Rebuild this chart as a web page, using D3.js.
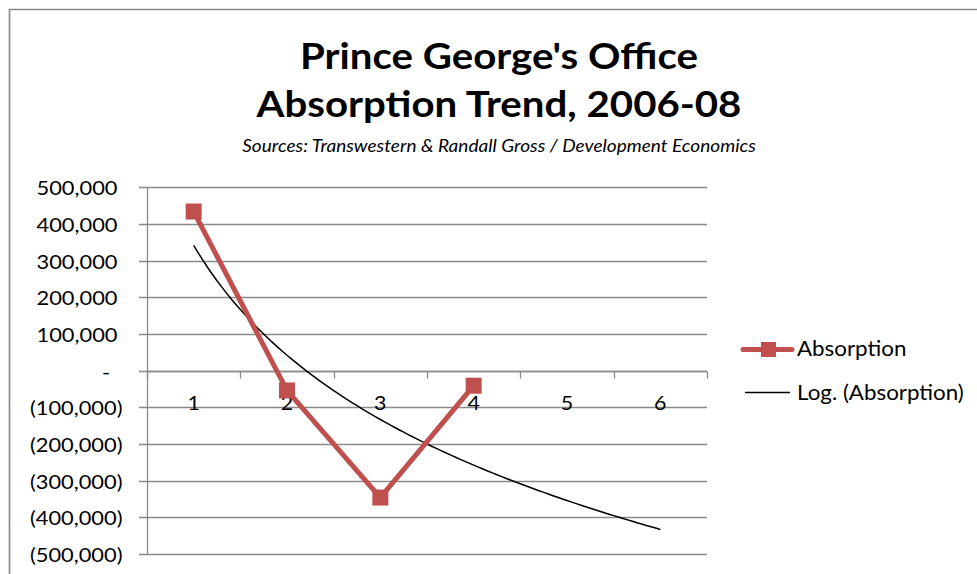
<!DOCTYPE html>
<html>
<head>
<meta charset="utf-8">
<script src="https://cdn.jsdelivr.net/npm/d3@7/dist/d3.min.js"></script>
<style>
  html, body { margin: 0; padding: 0; background: #fff; }
  svg { display: block; font-family: Lato, "Open Sans", sans-serif; }
</style>
</head>
<body>
<svg id="chart" width="977" height="574"></svg>
<script>
// Office absorption (sq ft) by period
const periods = [1, 2, 3, 4, 5, 6];
const absorption = [434000, -54000, -346000, -41000];
const yTicks = [500000, 400000, 300000, 200000, 100000, 0, -100000, -200000, -300000, -400000, -500000];
const titleLines = ["Prince George's Office", "Absorption Trend, 2006-08"];
const subtitle = "Sources: Transwestern & Randall Gross / Development Economics";
const seriesNames = ["Absorption", "Log. (Absorption)"];

const svg = d3.select("#chart");
const red = "#C0504D";
const gridColor = "#8a8a8a";

// widen text runs slightly so the face sets as wide as the original Calibri
function widen(sel, k) {
  sel.each(function () {
    const w = this.getComputedTextLength();
    this.setAttribute("textLength", (w * k).toFixed(1));
    this.setAttribute("lengthAdjust", "spacingAndGlyphs");
  });
}

// chart frame
svg.append("path")
  .attr("d", "M9.5,575 V9.5 H980")
  .attr("fill", "none").attr("stroke", "#888").attr("stroke-width", 1.6);

// titles
svg.selectAll("text.title").data(titleLines).join("text")
  .attr("class", "title")
  .attr("x", 499).attr("y", (d, i) => 69 + i * 48)
  .attr("text-anchor", "middle")
  .attr("font-size", 37).attr("font-weight", 700)
  .attr("fill", "#000")
  .text(d => d)
  .call(widen, 1.087);

svg.append("text")
  .attr("x", 499).attr("y", 152)
  .attr("text-anchor", "middle")
  .attr("font-size", 18).attr("font-style", "italic")
  .attr("fill", "#000")
  .text(subtitle)
  .call(widen, 1.058);

// plot area
const left = 147, right = 707;
const x = d3.scaleBand().domain(periods).range([left, right]);
const xLin = d3.scaleLinear().domain([0.5, 6.5]).range([left, right]);
const y = d3.scaleLinear().domain([-500000, 500000]).range([554, 187.3]);

// horizontal gridlines
svg.append("g").selectAll("line").data(yTicks).join("line")
  .attr("x1", left - 8).attr("x2", right)
  .attr("y1", d => Math.round(y(d)) + 0.5).attr("y2", d => Math.round(y(d)) + 0.5)
  .attr("stroke", gridColor).attr("stroke-width", 1.3);

// y axis line
svg.append("line")
  .attr("x1", left + 0.5).attr("x2", left + 0.5)
  .attr("y1", y(500000)).attr("y2", y(-500000))
  .attr("stroke", gridColor).attr("stroke-width", 1.3);

// y tick labels in accounting style
const fmt = d3.format(",");
svg.append("g").selectAll("text").data(yTicks).join("text")
  .attr("x", d => d > 0 ? 117.5 : d < 0 ? 122.5 : 106)
  .attr("y", d => y(d) + 8)
  .attr("text-anchor", d => d === 0 ? "middle" : "end")
  .attr("font-size", 19.5).attr("fill", "#000")
  .text(d => d > 0 ? fmt(d) : d < 0 ? "(" + fmt(-d) + ")" : "-")
  .call(widen, 1.12);

// x axis at zero with ticks between categories
const zeroY = Math.round(y(0)) + 0.5;
svg.append("line")
  .attr("x1", left).attr("x2", right)
  .attr("y1", zeroY).attr("y2", zeroY)
  .attr("stroke", gridColor).attr("stroke-width", 1.3);
const bounds = periods.map(p => x(p)).concat([right]);
svg.append("g").selectAll("line").data(bounds).join("line")
  .attr("x1", d => Math.round(d) + 0.5).attr("x2", d => Math.round(d) + 0.5)
  .attr("y1", zeroY).attr("y2", zeroY + 7)
  .attr("stroke", gridColor).attr("stroke-width", 1.3);
svg.append("g").selectAll("text").data(periods).join("text")
  .attr("x", d => x(d) + x.bandwidth() / 2)
  .attr("y", zeroY + 38)
  .attr("text-anchor", "middle")
  .attr("font-size", 19.5).attr("fill", "#000")
  .text(d => d)
  .call(widen, 1.1);

// logarithmic trendline: least-squares fit of y = a ln(x) + b over the data, extended to period 6
const lx = absorption.map((v, i) => Math.log(i + 1));
const mx = d3.mean(lx), my = d3.mean(absorption);
const a = d3.sum(lx, (l, i) => (l - mx) * (absorption[i] - my)) / d3.sum(lx, l => (l - mx) ** 2);
const b = my - a * mx;
const trendX = d3.range(1, 6.001, 0.05);
svg.append("path")
  .datum(trendX)
  .attr("fill", "none").attr("stroke", "#000").attr("stroke-width", 1.5)
  .attr("d", d3.line().x(t => xLin(t)).y(t => y(a * Math.log(t) + b)));

// absorption series
const pts = absorption.map((v, i) => ({ p: periods[i], v }));
svg.append("path")
  .datum(pts)
  .attr("fill", "none").attr("stroke", red).attr("stroke-width", 5)
  .attr("stroke-linejoin", "round")
  .attr("d", d3.line().x(d => xLin(d.p)).y(d => y(d.v)));
svg.append("g").selectAll("rect").data(pts).join("rect")
  .attr("x", d => xLin(d.p) - 8).attr("y", d => y(d.v) - 8)
  .attr("width", 16).attr("height", 16)
  .attr("fill", red);

// legend
const lg = svg.append("g");
lg.append("line").attr("x1", 743).attr("x2", 792).attr("y1", 349.5).attr("y2", 349.5)
  .attr("stroke", red).attr("stroke-width", 5).attr("stroke-linecap", "round");
lg.append("rect").attr("x", 761).attr("y", 342).attr("width", 15).attr("height", 15).attr("fill", red);
lg.append("line").attr("x1", 745).attr("x2", 790).attr("y1", 392.5).attr("y2", 392.5)
  .attr("stroke", "#000").attr("stroke-width", 1.5);
lg.selectAll("text").data(seriesNames).join("text")
  .attr("x", 797).attr("y", (d, i) => 356 + i * 44)
  .attr("font-size", 20.5).attr("fill", "#000")
  .text(d => d)
  .call(widen, 1.09);
</script>
</body>
</html>
